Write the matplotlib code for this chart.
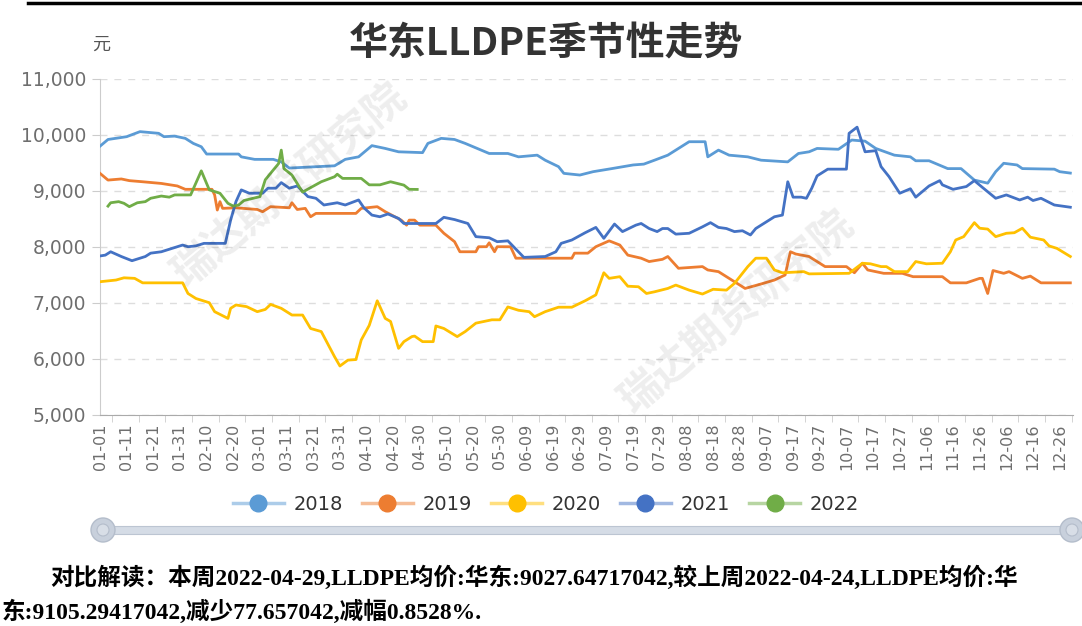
import matplotlib
matplotlib.use("Agg")
import matplotlib.pyplot as plt
import pandas as pd
from matplotlib.lines import Line2D
from matplotlib.legend_handler import HandlerTuple
from matplotlib.patches import Ellipse, Rectangle

plt.rcParams['font.family'] = ['DejaVu Sans', 'Noto Sans CJK SC']

# ---------------- data ----------------
title = "华东LLDPE季节性走势"
unit = "元"
series_names = ["2018", "2019", "2020", "2021", "2022"]
colors = ["#5B9BD5", "#ED7D31", "#FFC000", "#4472C4", "#70AD47"]

y_ticks = [5000, 6000, 7000, 8000, 9000, 10000, 11000]
y_tick_labels = ["5,000", "6,000", "7,000", "8,000", "9,000", "10,000", "11,000"]

d2018 = ["01-01", "01-04", "01-11", "01-16", "01-23", "01-25", "01-29", "02-02", "02-05", "02-08",
         "02-10", "02-22", "02-23", "02-28", "03-06", "03-09", "03-12", "03-29", "04-02", "04-07",
         "04-10", "04-12", "04-14", "04-17", "04-22", "05-01", "05-03", "05-08", "05-13", "05-17",
         "05-26", "06-02", "06-06", "06-13", "06-16", "06-21", "06-23", "06-29", "07-04", "07-11",
         "07-19", "07-23", "07-27", "08-01", "08-09", "08-15", "08-16", "08-20", "08-24", "08-31",
         "09-05", "09-15", "09-19", "09-23", "09-26", "10-04", "10-09", "10-14", "10-18", "10-25",
         "10-31", "11-02", "11-07", "11-14", "11-19", "11-24", "11-29", "12-02", "12-05", "12-10",
         "12-12", "12-24", "12-26", "12-30"]
v2018 = [9800, 9920, 9970, 10060, 10030, 9970, 9980, 9940, 9850, 9790,
         9660, 9660, 9610, 9565, 9565, 9520, 9410, 9450, 9565, 9610,
         9730, 9810, 9790, 9760, 9700, 9685, 9850, 9940, 9920, 9850,
         9670, 9670, 9610, 9640, 9550, 9435, 9315, 9285, 9345, 9400,
         9465, 9480, 9550, 9640, 9880, 9880, 9610, 9730, 9640, 9610,
         9550, 9520, 9670, 9700, 9760, 9745, 9910, 9890, 9760, 9640,
         9610, 9540, 9540, 9400, 9400, 9195, 9140, 9345, 9495, 9465,
         9400, 9390, 9345, 9320]

d2019 = ["01-01", "01-04", "01-09", "01-12", "01-17", "01-24", "01-30", "02-02", "02-12", "02-13",
         "02-14", "02-15", "02-16", "02-21", "02-29", "03-02", "03-05", "03-12", "03-13", "03-15",
         "03-18", "03-20", "03-22", "04-06", "04-08", "04-14", "04-17", "04-23", "04-25", "04-26",
         "04-28", "04-30", "05-06", "05-09", "05-13", "05-15", "05-21", "05-22", "05-25", "05-26",
         "05-28", "05-29", "06-03", "06-05", "06-26", "06-27", "07-02", "07-05", "07-10", "07-14",
         "07-17", "07-22", "07-25", "07-30", "08-01", "08-05", "08-14", "08-16", "08-20", "08-26",
         "08-30", "09-05", "09-10", "09-14", "09-16", "09-18", "09-23", "09-29", "10-07", "10-10",
         "10-13", "10-15", "10-21", "10-28", "11-01", "11-12", "11-15", "11-21", "11-26", "11-27",
         "11-29", "12-01", "12-05", "12-07", "12-12", "12-15", "12-19", "12-30"]
v2019 = [9315, 9195, 9215, 9185, 9165, 9135, 9090, 9030, 9030, 8930,
         8660, 8810, 8690, 8700, 8670, 8630, 8720, 8700, 8790, 8670,
         8690, 8540, 8600, 8600, 8690, 8720, 8630, 8480, 8390, 8480,
         8480, 8390, 8390, 8245, 8095, 7915, 7915, 8005, 8005, 8075,
         7915, 8005, 8005, 7800, 7800, 7890, 7890, 8005, 8110, 8035,
         7855, 7800, 7740, 7780, 7830, 7620, 7650, 7590, 7560, 7380,
         7260, 7340, 7410, 7500, 7915, 7875, 7830, 7650, 7650, 7540,
         7710, 7590, 7530, 7530, 7470, 7470, 7360, 7360, 7440, 7440,
         7170, 7580, 7530, 7560, 7440, 7480, 7360, 7360]

d2020 = ["01-01", "01-07", "01-10", "01-14", "01-17", "02-01", "02-03", "02-06", "02-11", "02-13",
         "02-18", "02-19", "02-21", "02-25", "02-29", "03-03", "03-05", "03-09", "03-13", "03-17",
         "03-20", "03-24", "03-29", "03-31", "04-03", "04-06", "04-08", "04-11", "04-14", "04-17",
         "04-19", "04-22", "04-24", "04-27", "04-28", "05-01", "05-05", "05-06", "05-09", "05-14",
         "05-17", "05-21", "05-27", "05-30", "06-02", "06-06", "06-10", "06-12", "06-16", "06-21",
         "06-26", "07-01", "07-05", "07-08", "07-10", "07-14", "07-17", "07-21", "07-24", "07-27",
         "08-01", "08-04", "08-09", "08-14", "08-18", "08-23", "08-26", "08-31", "09-03", "09-07",
         "09-10", "09-13", "09-21", "09-23", "10-08", "10-13", "10-16", "10-20", "10-22", "10-25",
         "10-30", "11-02", "11-06", "11-12", "11-15", "11-17", "11-20", "11-24", "11-26", "11-29",
         "12-02", "12-06", "12-09", "12-12", "12-15", "12-20", "12-22", "12-25", "12-30"]
v2020 = [7380, 7410, 7450, 7440, 7360, 7360, 7170, 7080, 7005, 6845,
         6725, 6905, 6965, 6935, 6845, 6885, 6975, 6905, 6785, 6785,
         6545, 6490, 6040, 5875, 5980, 5990, 6340, 6600, 7040, 6725,
         6670, 6190, 6310, 6400, 6410, 6310, 6310, 6590, 6545, 6400,
         6490, 6640, 6700, 6700, 6930, 6870, 6845, 6755, 6845, 6925,
         6925, 7040, 7145, 7540, 7440, 7470, 7300, 7290, 7170, 7200,
         7260, 7320, 7230, 7160, 7245, 7230, 7350, 7650, 7800, 7800,
         7590, 7540, 7560, 7520, 7530, 7710, 7700, 7650, 7650, 7560,
         7560, 7740, 7700, 7710, 7915, 8125, 8185, 8435, 8335, 8320,
         8185, 8245, 8255, 8335, 8175, 8125, 8020, 7975, 7830]

d2021 = ["01-01", "01-03", "01-05", "01-09", "01-13", "01-18", "01-20", "01-24", "01-29", "02-01",
         "02-03", "02-06", "02-09", "02-17", "02-19", "02-21", "02-23", "02-26", "03-02", "03-04",
         "03-07", "03-09", "03-12", "03-15", "03-19", "03-22", "03-25", "03-30", "04-02", "04-07",
         "04-09", "04-12", "04-15", "04-18", "04-22", "04-24", "05-06", "05-09", "05-13", "05-18",
         "05-21", "05-26", "05-29", "06-02", "06-08", "06-16", "06-20", "06-22", "06-26", "07-01",
         "07-05", "07-08", "07-12", "07-15", "07-20", "07-22", "07-25", "07-28", "07-30", "08-01",
         "08-04", "08-09", "08-14", "08-17", "08-20", "08-23", "08-26", "08-29", "09-01", "09-03",
         "09-06", "09-10", "09-13", "09-15", "09-17", "09-20", "09-22", "09-24", "09-26", "09-30",
         "10-07", "10-08", "10-11", "10-14", "10-18", "10-20", "10-23", "10-27", "10-31", "11-02",
         "11-07", "11-11", "11-12", "11-16", "11-21", "11-24", "11-27", "12-02", "12-06", "12-11",
         "12-14", "12-16", "12-19", "12-24", "12-30"]
v2021 = [7840, 7855, 7915, 7830, 7755, 7830, 7890, 7915, 7990, 8035,
         8005, 8020, 8065, 8065, 8480, 8810, 9020, 8960, 8960, 9050,
         9050, 9150, 9050, 9090, 8900, 8870, 8750, 8790, 8750, 8840,
         8700, 8570, 8540, 8590, 8510, 8420, 8420, 8530, 8490, 8420,
         8185, 8165, 8095, 8110, 7815, 7830, 7915, 8065, 8125, 8255,
         8350, 8155, 8410, 8275, 8390, 8420, 8330, 8275, 8330, 8330,
         8230, 8245, 8360, 8435, 8350, 8330, 8275, 8290, 8215, 8330,
         8420, 8540, 8570, 9165, 8890, 8890, 8870, 9050, 9270, 9390,
         9390, 10030, 10140, 9700, 9720, 9435, 9255, 8960, 9040, 8890,
         9090, 9185, 9110, 9030, 9080, 9185, 9065, 8870, 8930, 8840,
         8890, 8830, 8870, 8750, 8710]

d2022 = ["01-04", "01-05", "01-08", "01-10", "01-12", "01-15", "01-18", "01-20", "01-24", "01-27",
         "01-29", "02-04", "02-08", "02-11", "02-15", "02-18", "02-20", "02-22", "02-24", "03-01",
         "03-03", "03-06", "03-08", "03-09", "03-10", "03-13", "03-17", "03-20", "03-24", "03-29",
         "03-30", "04-01", "04-08", "04-11", "04-15", "04-19", "04-24", "04-26", "04-29"]
v2022 = [8730, 8790, 8810, 8780, 8720, 8790, 8810, 8870, 8910, 8890,
         8930, 8930, 9360, 9020, 8960, 8780, 8730, 8750, 8830, 8900,
         9200, 9375, 9490, 9730, 9400, 9285, 8980, 9060, 9165, 9255,
         9300, 9225, 9225, 9110, 9110, 9165, 9105, 9030, 9028]

note_line1 = "对比解读：本周2022-04-29,LLDPE均价:华东:9027.64717042,较上周2022-04-24,LLDPE均价:华"
note_line2 = "东:9105.29417042,减少77.657042,减幅0.8528%."
watermark = "瑞达期货研究院"

# ---------------- figure ----------------
W, H = 1082, 626
fig = plt.figure(figsize=(W / 100, H / 100), dpi=100)
fig.patch.set_facecolor("white")


def fx(x):
    return x / W


def fy(y):
    return 1 - y / H


# categories: every day of a leap year as MM-DD
categories = pd.date_range("2020-01-01", "2020-12-31", freq="D").strftime("%m-%d").tolist()
pos = {c: i for i, c in enumerate(categories)}

ax = fig.add_axes([fx(100), fy(415), fx(1073) - fx(100), fy(79) - fy(415)])
ax.set_facecolor("none")

all_dates = [d2018, d2019, d2020, d2021, d2022]
all_vals = [v2018, v2019, v2020, v2021, v2022]
for name, c, ds, vs in zip(series_names, colors, all_dates, all_vals):
    ax.plot([pos[d] for d in ds], vs, color=c, lw=2.0, solid_joinstyle="round", zorder=3)

ax.set_xlim(0, len(categories) - 1)
ax.set_ylim(5000, 11000)

ax.set_yticks(y_ticks)
ax.set_yticklabels(y_tick_labels)
label_idx = list(range(0, len(categories), 10))
ax.set_xticks(label_idx)
ax.set_xticklabels([categories[i] for i in label_idx], rotation=90)
ax.set_xticks([i + 4.5 for i in label_idx if i + 4.5 < len(categories)], minor=True)

ax.tick_params(axis="y", length=6, color="#CCCCCC", labelsize=13.5, labelcolor="#6E6E6E", pad=4)
ax.tick_params(axis="x", which="major", length=0, labelsize=11.5, labelcolor="#6E6E6E", pad=6)
ax.tick_params(axis="x", which="minor", length=5, color="#CCCCCC")

for s in ["top", "right"]:
    ax.spines[s].set_visible(False)
ax.spines["left"].set_color("#CCCCCC")
ax.spines["bottom"].set_color("#AAAAAA")
ax.grid(axis="y", color="#DDDDDD", linestyle=(0, (5, 5)), lw=1.0)
ax.set_axisbelow(True)

# watermarks
for cx, cy in [(290, 185), (737, 312)]:
    fig.text(fx(cx), fy(cy), watermark, fontsize=30, rotation=40, color="#000000", alpha=0.07,
             ha="center", va="center", family=["Noto Sans CJK SC"], fontweight="bold", zorder=0)

# title & unit
fig.text(fx(546), fy(44), title, fontsize=28, fontweight="bold", color="#333333",
         ha="center", va="center", family=["Noto Sans CJK SC"])
fig.text(fx(101), fy(45), unit, fontsize=13, color="#555555", ha="center", va="center",
         family=["Noto Sans CJK SC"])

# top border line
fig.add_artist(Line2D([fx(28), fx(1082)], [fy(3), fy(3)], color="black", lw=2.5))

# legend
handles = [(Line2D([], [], color=c, lw=2.5, alpha=0.5),
            Line2D([], [], color=c, marker="o", ms=12, ls="none")) for c in colors]
fig.legend(handles, series_names, loc="center", bbox_to_anchor=(fx(546), fy(504)), ncol=5,
           frameon=False, fontsize=14, labelcolor="#333333", handlelength=2.6,
           handletextpad=0.5, columnspacing=1.0,
           handler_map={tuple: HandlerTuple(ndivide=1)})

# slider (data zoom)
fig.add_artist(Rectangle((fx(100), fy(534)), fx(1073) - fx(100), 8 / H, facecolor="#D5DCE6",
                         edgecolor="#BCC5D2", lw=0.8))
for hx in [103, 1072]:
    fig.add_artist(Ellipse((fx(hx), fy(530)), 24 / W, 24 / H, facecolor="#C8D0DC",
                           edgecolor="#B4BDCB", lw=1.0))
    fig.add_artist(Ellipse((fx(hx), fy(530)), 12 / W, 12 / H, facecolor="#D8DEE7",
                           edgecolor="#B4BDCB", lw=0.8))

# bottom note
note_font = ["Liberation Serif", "Noto Sans CJK SC"]
fig.text(fx(50), fy(578), note_line1, fontsize=17, fontweight="bold", color="black",
         ha="left", va="center", family=note_font)
fig.text(fx(2), fy(612), note_line2, fontsize=17, fontweight="bold", color="black",
         ha="left", va="center", family=note_font)

fig.savefig("out.png", dpi=100, facecolor="white")
